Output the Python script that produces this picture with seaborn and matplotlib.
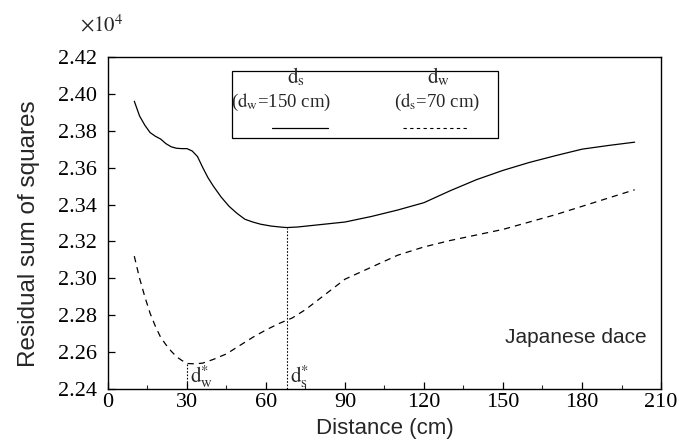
import numpy as np
import pandas as pd
import matplotlib
matplotlib.use("Agg")
import matplotlib.pyplot as plt
from matplotlib.patches import Rectangle
from matplotlib.ticker import MultipleLocator
import seaborn as sns

# d_s curve (d_w = 150 cm), residual sum of squares in units of 1e4
dist_s = [10, 12, 14, 16, 18, 20, 22, 24, 26, 28, 30, 32, 34, 36, 38, 40, 43, 46, 49,
          52, 55, 58, 62, 66, 68, 72, 80, 90, 100, 110, 120, 130, 140, 150, 160, 170,
          180, 190, 200]
rss_s = [2.396, 2.388, 2.383, 2.379, 2.377, 2.3755, 2.373, 2.3713, 2.3705, 2.3703,
         2.3703, 2.369, 2.366, 2.360, 2.3545, 2.350, 2.344, 2.339, 2.3352, 2.332,
         2.3305, 2.3293, 2.3283, 2.3277, 2.3275, 2.3278, 2.329, 2.3305, 2.3335,
         2.337, 2.341, 2.3475, 2.3535, 2.3585, 2.3628, 2.3665, 2.370, 2.372, 2.3738]

# d_w curve (d_s = 70 cm)
dist_w = [10, 12, 14, 16, 18, 20, 22, 24, 26, 28, 30, 33, 36, 40, 45, 50, 55, 60, 65,
          70, 75, 80, 90, 100, 110, 120, 130, 140, 150, 160, 170, 180, 190, 200]
rss_w = [2.312, 2.300, 2.290, 2.281, 2.274, 2.268, 2.264, 2.2605, 2.2575, 2.2555,
         2.2538, 2.2536, 2.2540, 2.256, 2.259, 2.2635, 2.268, 2.272, 2.2755, 2.2785,
         2.283, 2.2885, 2.2995, 2.306, 2.3125, 2.317, 2.3205, 2.3235, 2.3265, 2.3305,
         2.3345, 2.339, 2.3435, 2.348]

x_ticks = [0, 30, 60, 90, 120, 150, 180, 210]
y_ticks = [2.24, 2.26, 2.28, 2.30, 2.32, 2.34, 2.36, 2.38, 2.40, 2.42]

df_s = pd.DataFrame({"dist": dist_s, "rss": rss_s})
df_w = pd.DataFrame({"dist": dist_w, "rss": rss_w})

sns.set_style("ticks")
plt.rcParams["mathtext.fontset"] = "stix"
serif = "Liberation Serif"
sans = "Liberation Sans"

fig = plt.figure(figsize=(6.79, 4.45), dpi=100)
ax = fig.add_axes([0.159, 0.126, 0.8145, 0.746])

sns.lineplot(data=df_s, x="dist", y="rss", ax=ax, color="black", linewidth=0.9)
sns.lineplot(data=df_w, x="dist", y="rss", ax=ax, color="black", linewidth=0.9,
             linestyle=(0, (5, 4)))

ax.set_xlim(0, 210)
ax.set_ylim(2.24, 2.42)
ax.set_xticks(x_ticks)
ax.set_yticks(y_ticks)
ax.set_xticklabels([str(v) for v in x_ticks], fontfamily=serif, fontsize=16)
ax.set_yticklabels(["%.2f" % v for v in y_ticks], fontfamily=serif, fontsize=16)
ax.xaxis.set_minor_locator(MultipleLocator(15))
ax.tick_params(axis="both", which="major", direction="in", length=5, width=0.9,
               colors="black", pad=3)
ax.tick_params(axis="y", which="major", pad=8)
ax.tick_params(axis="x", which="minor", direction="in", length=3, width=0.8)
for sp in ax.spines.values():
    sp.set_visible(True)
    sp.set_linewidth(1.0)
    sp.set_color("black")

ax.set_xlabel("Distance (cm)", fontfamily=sans, fontsize=16, labelpad=4)
ax.set_ylabel("Residual sum of squares", fontfamily=sans, fontsize=17.5)
ax.yaxis.set_label_coords(-0.123, 0.467)

# optimum markers
i_s = int(np.argmin(rss_s))
i_w = int(np.argmin(rss_w[:12]))
ax.vlines(dist_s[i_s], 2.24, rss_s[i_s], colors="black", linestyles=(0, (1.5, 1.5)),
          linewidth=0.8)
ax.vlines(30, 2.24, rss_w[i_w], colors="black", linestyles=(0, (1.5, 1.5)),
          linewidth=0.8)
ax.text(31, 2.2438, r"$\mathrm{d}_{\mathrm{w}}^{*}$", fontsize=15, va="baseline")
ax.text(dist_s[i_s] + 1, 2.2438, r"$\mathrm{d}_{\mathrm{s}}^{*}$", fontsize=15,
        va="baseline")

ax.text(0.718, 0.154, "Japanese dace", transform=ax.transAxes, fontfamily=sans,
        fontsize=15, va="center", ha="left")

# legend box
ax.add_patch(Rectangle((0.224, 0.756), 0.481, 0.202, transform=ax.transAxes,
                       fill=False, edgecolor="black", linewidth=0.9))
ax.text(0.340, 0.922, r"$\mathrm{d}_{\mathrm{s}}$", transform=ax.transAxes,
        fontsize=15, ha="center", va="baseline")
ax.text(0.313, 0.849, r"($\mathrm{d}_{\mathrm{w}}$=150 cm)", transform=ax.transAxes,
        fontsize=13.5, ha="center", va="baseline", fontfamily=serif)
ax.plot([0.297, 0.398], [0.786, 0.786], transform=ax.transAxes, color="black",
        linewidth=0.9)
ax.text(0.597, 0.922, r"$\mathrm{d}_{\mathrm{w}}$", transform=ax.transAxes,
        fontsize=15, ha="center", va="baseline")
ax.text(0.595, 0.849, r"($\mathrm{d}_{\mathrm{s}}$=70 cm)", transform=ax.transAxes,
        fontsize=13.5, ha="center", va="baseline", fontfamily=serif)
ax.plot([0.533, 0.651], [0.786, 0.786], transform=ax.transAxes, color="black",
        linewidth=0.8, linestyle=(0, (3, 3)))

fig.text(0.118, 0.945, r"$\times 10^{4}$", fontsize=15, ha="left", va="center")

fig.savefig("out.png", dpi=100)
